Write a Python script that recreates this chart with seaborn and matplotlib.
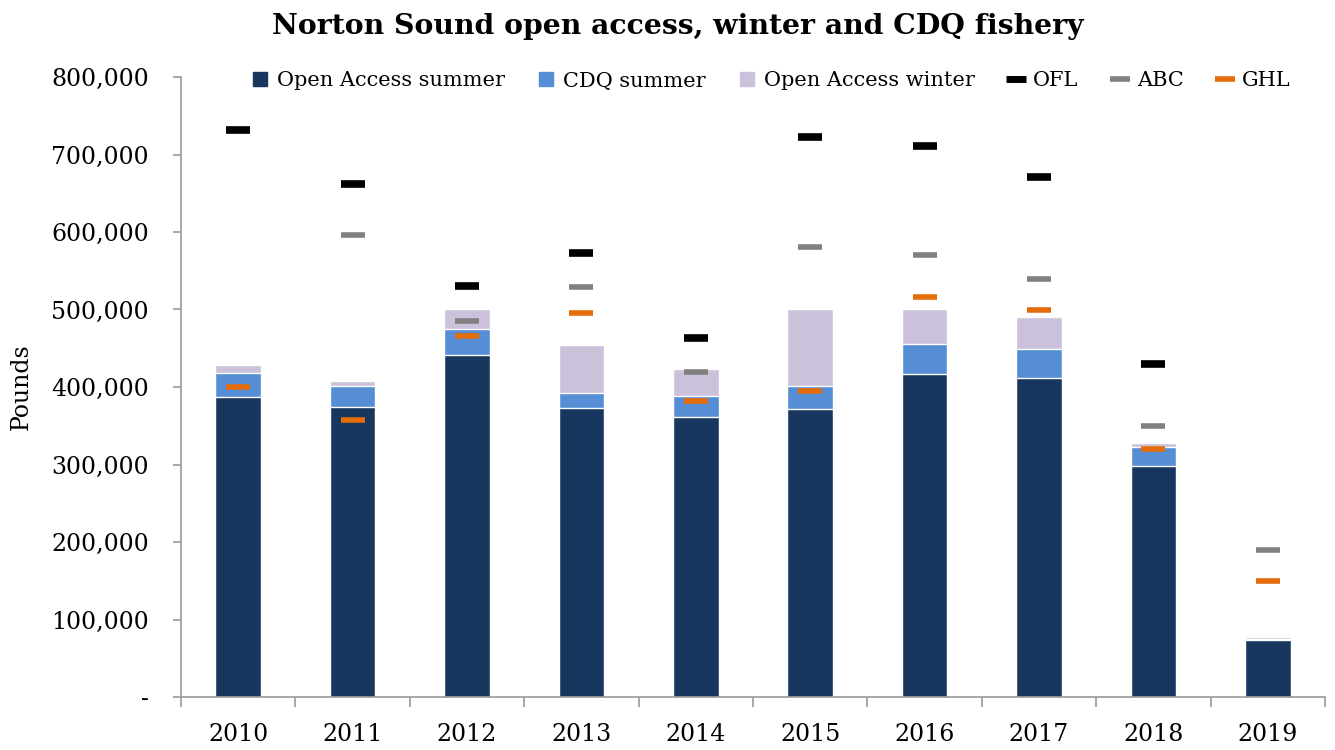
import matplotlib
matplotlib.use("Agg")
from matplotlib import pyplot as plt
from matplotlib.lines import Line2D
from matplotlib.ticker import FuncFormatter
import numpy as np
import pandas as pd
import seaborn as sns

# Data (pounds)
years = ["2010", "2011", "2012", "2013", "2014", "2015", "2016", "2017", "2018", "2019"]
oa_summer = [387000, 374000, 441000, 373000, 361000, 372000, 417000, 412000, 298000, 74000]
cdq_summer = [31000, 27000, 34000, 19000, 27000, 29000, 38000, 37000, 24000, 1000]
oa_winter = [10000, 7000, 25000, 62000, 35000, 99000, 45000, 41000, 6000, 3000]
ofl = [731000, 662000, 530000, 573000, 463000, 722000, 711000, 671000, 430000, np.nan]
abc = [np.nan, 596000, 485000, 529000, 419000, 581000, 570000, 539000, 350000, 190000]
ghl = [400000, 357000, 466000, 496000, 382000, 395000, 516000, 499000, 320000, 150000]

c_dark = "#17375E"
c_blue = "#558ED5"
c_lav = "#CCC1DA"
c_ofl = "#000000"
c_abc = "#808080"
c_ghl = "#E36C09"

df = pd.DataFrame(
    {
        "Year": years,
        "oa_summer": oa_summer,
        "cdq_summer": cdq_summer,
        "oa_winter": oa_winter,
        "OFL": ofl,
        "ABC": abc,
        "GHL": ghl,
    }
)
df["lvl2"] = df["oa_summer"] + df["cdq_summer"]
df["lvl3"] = df["lvl2"] + df["oa_winter"]

sns.set_style("white")
plt.rcParams["font.family"] = ["DejaVu Serif"]
plt.rcParams["text.color"] = "black"
plt.rcParams["axes.labelcolor"] = "black"
plt.rcParams["xtick.color"] = "black"
plt.rcParams["ytick.color"] = "black"

fig = plt.figure(figsize=(13.35, 7.5), dpi=100)
ax = fig.add_axes([181 / 1335, 53 / 750, 1144 / 1335, 620 / 750])

# Stacked bars: draw cumulative totals back to front
sns.barplot(data=df, x="Year", y="lvl3", color=c_lav, width=0.4, saturation=1, ax=ax)
sns.barplot(data=df, x="Year", y="lvl2", color=c_blue, width=0.4, saturation=1, ax=ax)
sns.barplot(data=df, x="Year", y="oa_summer", color=c_dark, width=0.4, saturation=1, ax=ax)

# Reference point markers
for col, c, mew in [("OFL", c_ofl, 5.5), ("ABC", c_abc, 4), ("GHL", c_ghl, 4)]:
    sns.pointplot(
        data=df, x="Year", y=col, color=c, linestyle="none", marker="_",
        markersize=17, markeredgewidth=mew, errorbar=None, ax=ax,
    )

ax.set_ylim(0, 800000)
ax.set_xlim(-0.5, 9.5)
ax.set_yticks(np.arange(0, 800001, 100000))
ax.yaxis.set_major_formatter(FuncFormatter(lambda v, p: "-" if v == 0 else f"{int(v):,}"))
ax.set_xlabel("")
ax.set_ylabel("Pounds", fontsize=17)
ax.yaxis.set_label_coords(-148 / 1144, 0.5)

for s in ["top", "right"]:
    ax.spines[s].set_visible(False)
for s in ["left", "bottom"]:
    ax.spines[s].set_color("#9a9a9a")
    ax.spines[s].set_linewidth(1.2)

ax.tick_params(axis="y", which="major", length=6, width=1.2, color="#9a9a9a",
               direction="out", left=True, labelsize=17, pad=17)
ax.tick_params(axis="x", which="major", length=0, labelsize=17, pad=19)
ax.set_xticks(np.arange(-0.5, 10, 1), minor=True)
ax.tick_params(axis="x", which="minor", length=7, width=1.2, color="#9a9a9a",
               direction="out", bottom=True)

# Legend
handles = [
    Line2D([], [], linestyle="none", marker="s", markersize=10, color=c_dark),
    Line2D([], [], linestyle="none", marker="s", markersize=10, color=c_blue),
    Line2D([], [], linestyle="none", marker="s", markersize=10, color=c_lav),
    Line2D([], [], linestyle="none", marker="_", markersize=14, markeredgewidth=5, color=c_ofl),
    Line2D([], [], linestyle="none", marker="_", markersize=14, markeredgewidth=4, color=c_abc),
    Line2D([], [], linestyle="none", marker="_", markersize=14, markeredgewidth=4, color=c_ghl),
]
labels = ["Open Access summer", "CDQ summer", "Open Access winter", "OFL", "ABC", "GHL"]
fig.legend(handles, labels, loc="center", bbox_to_anchor=(770 / 1335, 1 - 81 / 750), ncol=6,
           frameon=False, fontsize=15, handlelength=1.0, handletextpad=0.3, columnspacing=1.5)

fig.suptitle("Norton Sound open access, winter and CDQ fishery", x=678 / 1335, y=1 - 26 / 750,
             va="center", fontsize=20.3, fontweight="bold")

plt.savefig("out.png", dpi=100)
